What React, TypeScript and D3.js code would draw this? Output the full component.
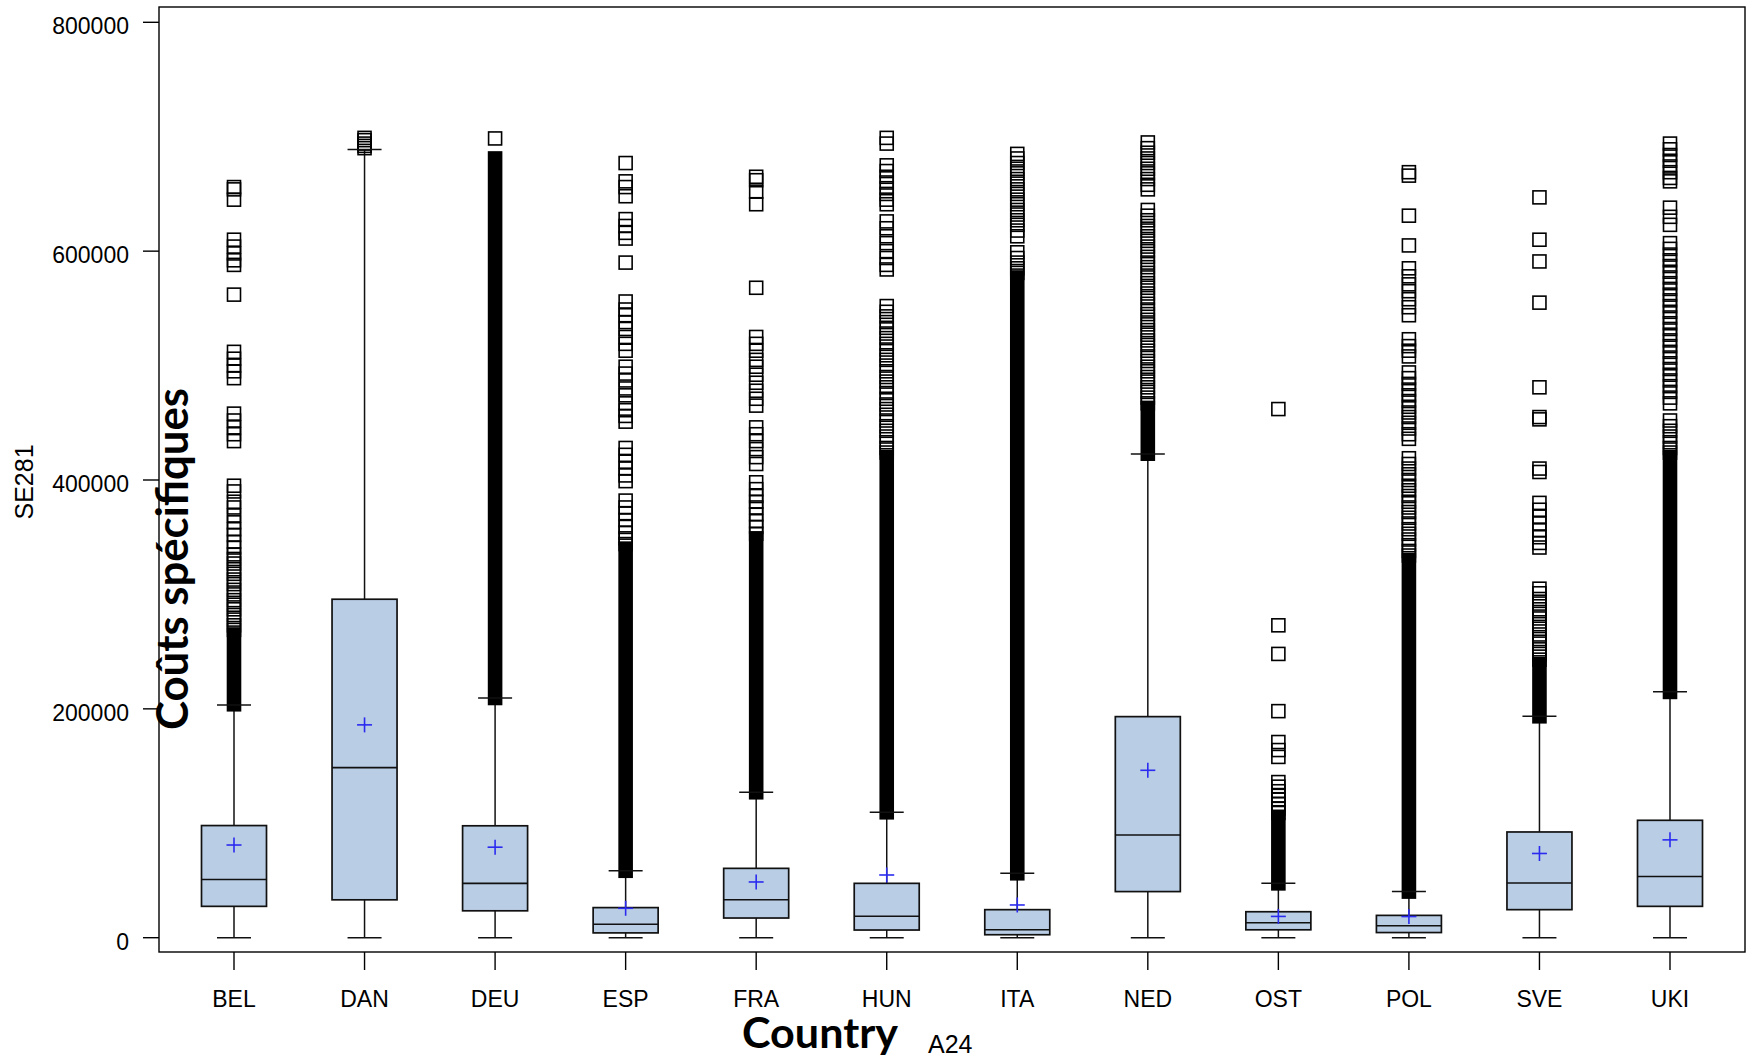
import React from "react";
import * as d3 from "d3";

// country codes (A24)
const countries = ["BEL", "DAN", "DEU", "ESP", "FRA", "HUN", "ITA", "NED", "OST", "POL", "SVE", "UKI"];

// box statistics of SE281 per country
const lowWhisker = [0, 0, 0, 0, 0, 0, 0, 0, 0, 0, 0, 0];
const q1Vals = [27400, 33100, 23500, 4200, 17200, 6700, 2600, 40300, 6900, 4500, 24500, 27400];
const medianVals = [50900, 148600, 47500, 11800, 33200, 18700, 7000, 89800, 13000, 10500, 47800, 53500];
const q3Vals = [98000, 295800, 97800, 26300, 60600, 47500, 24500, 193200, 22700, 19500, 92400, 102600];
const meanVals = [81000, 186000, 79100, 25700, 48700, 54800, 28600, 146300, 18600, 18500, 73600, 85500];
const highWhisker = [203400, 688900, 209500, 58500, 127100, 109600, 56300, 422800, 47500, 40300, 193500, 215000];

// single outliers (squares)
const belOut = [656000, 654000, 645000, 610000, 604000, 598000, 592000, 588000, 562000, 512000, 506000, 500000, 495000,
  489000, 458000, 452000, 446000, 440000, 434000, 395000, 390000, 381000, 376000, 369000, 363000, 357000, 352000, 346000,
  341000, 335000, 331000, 327000, 322000, 318000, 313000, 309000, 304000, 300000, 295000, 291000, 287000, 282000, 278000,
  273000, 269000];
const danOut = [699000, 697000, 694000, 692000, 690000];
const deuOut = [698500];
const espOut = [677000, 661000, 656000, 648000, 628000, 622000, 616000, 611000, 590000, 556000, 549000, 544000, 538000,
  532000, 525000, 519000, 513000, 499000, 493000, 487000, 480000, 474000, 467000, 461000, 456000, 451000, 428000, 422000,
  416000, 410000, 404000, 399000, 382000, 376000, 371000, 365000, 359000, 354000, 349000, 344000];
const fraOut = [665000, 662000, 652000, 641000, 568000, 525000, 519000, 513000, 505000, 499000, 492000, 485000, 478000,
  471000, 465000, 446000, 440000, 434000, 427000, 420000, 414000, 398000, 392000, 386000, 381000, 376000, 370000, 364000,
  359000, 353000];
const hunOut = [699000, 694000, 675000, 670000, 665000, 660000, 655000, 650000, 645000, 641000, 626000, 620000, 613000,
  607000, 600000, 594000, 588000, 584000, 552000, 547000, 543000, 538000, 533000, 528000, 524000, 519000, 514000, 509000,
  505000, 500000, 495000, 490000, 486000, 481000, 476000, 471000, 466000, 462000, 457000, 452000, 447000, 443000, 438000,
  433000, 428000, 424000];
const itaOut = [685000, 681000, 677000, 672000, 668000, 663000, 659000, 654000, 650000, 645000, 641000, 636000, 632000,
  627000, 623000, 618000, 613000, 599000, 594000, 590000, 585000, 581000];
const nedOut = [695000, 690000, 686000, 681000, 677000, 672000, 668000, 663000, 658000, 654000, 636000, 631000, 627000,
  622000, 618000, 613000, 609000, 604000, 600000, 595000, 590000, 586000, 581000, 577000, 572000, 568000, 563000, 559000,
  554000, 549000, 545000, 540000, 536000, 531000, 527000, 522000, 518000, 513000, 508000, 504000, 499000, 495000, 490000,
  486000, 481000, 477000, 472000, 467000];
const ostOut = [462000, 273000, 248000, 198000, 171000, 164000, 158000, 136000, 132000, 128000, 124000, 121000, 117000,
  113000, 109000];
const polOut = [669000, 666000, 631000, 605000, 585000, 578000, 571000, 565000, 558000, 551000, 544000, 523000, 517000,
  513000, 508000, 494000, 489000, 484000, 479000, 474000, 469000, 464000, 459000, 455000, 450000, 445000, 440000, 436000,
  419000, 414000, 410000, 405000, 400000, 395000, 391000, 386000, 381000, 376000, 372000, 367000, 362000, 357000, 353000,
  348000, 343000, 338000, 334000];
const sveOut = [647000, 610000, 591000, 555000, 481000, 455000, 453000, 410000, 407000, 380000, 374000, 368000, 362000,
  356000, 350000, 345000, 341000, 305000, 301000, 296000, 292000, 287000, 283000, 279000, 274000, 270000, 265000, 261000,
  257000, 252000, 248000, 243000];
const ukiOut = [694000, 689000, 684000, 679000, 674000, 669000, 664000, 661000, 638000, 630000, 623000, 607000, 602000,
  597000, 592000, 587000, 582000, 577000, 572000, 567000, 562000, 557000, 552000, 547000, 542000, 537000, 532000, 527000,
  522000, 517000, 512000, 507000, 502000, 497000, 492000, 487000, 482000, 477000, 472000, 467000, 452000, 447000, 443000,
  438000, 433000, 428000, 424000];
const outliers = [belOut, danOut, deuOut, espOut, fraOut, hunOut, itaOut, nedOut, ostOut, polOut, sveOut, ukiOut];

// ranges where outliers are so many that the squares merge into black
const denseRuns: [number, number][][] = [
  [[204000, 265000]], [], [[209500, 681000]], [[58500, 340000]], [[127100, 349000]], [[109600, 420000]],
  [[56300, 577000]], [[423000, 463000]], [[47500, 105000]], [[40300, 330000]], [[193500, 239000]], [[214800, 420000]],
];

const yTicks = [0, 200000, 400000, 600000, 800000];

const W = 1750;
const H = 1057;
const left = 159, right = 1745, top = 7, bottom = 952;
const sans = "'Liberation Sans', Arial, sans-serif";
const titleFont = "Lato, 'Open Sans', sans-serif";

export default function App() {
  const x = d3.scalePoint<string>().domain(countries).range([234, 1670]);
  const y = d3.scaleLinear().domain([0, 800000]).range([937.7, 22.3]);
  const boxW = 65;
  const capW = 34;
  const sq = 13;

  return (
    <svg width={W} height={H} style={{ position: "absolute", left: 0, top: 0, background: "#fff" }}>
      {countries.map((c, i) => {
        const cx = x(c)!;
        return (
          <g key={c}>
            <line x1={cx} x2={cx} y1={y(q3Vals[i])} y2={y(highWhisker[i])} stroke="#111" strokeWidth={1.5} />
            <line x1={cx} x2={cx} y1={y(q1Vals[i])} y2={y(lowWhisker[i])} stroke="#111" strokeWidth={1.5} />
            <line x1={cx - capW / 2} x2={cx + capW / 2} y1={y(lowWhisker[i])} y2={y(lowWhisker[i])} stroke="#111" strokeWidth={1.5} />
            <rect x={cx - boxW / 2} y={y(q3Vals[i])} width={boxW} height={y(q1Vals[i]) - y(q3Vals[i])}
              fill="#b9cde5" stroke="#111" strokeWidth={1.7} />
            <line x1={cx - boxW / 2} x2={cx + boxW / 2} y1={y(medianVals[i])} y2={y(medianVals[i])} stroke="#111" strokeWidth={1.6} />
            {denseRuns[i].map(([lo, hi], k) => (
              <rect key={k} x={cx - sq / 2 - 0.8} y={y(hi) - sq / 2 - 0.8} width={sq + 1.6}
                height={y(lo) - y(hi) + sq + 1.6} fill="#000" />
            ))}
            {outliers[i].map((v, k) => (
              <rect key={k} x={cx - sq / 2} y={y(v) - sq / 2} width={sq} height={sq}
                fill="none" stroke="#000" strokeWidth={1.6} />
            ))}
            <line x1={cx - capW / 2} x2={cx + capW / 2} y1={y(highWhisker[i])} y2={y(highWhisker[i])} stroke="#111" strokeWidth={1.5} />
            <g stroke="#2b2bf0" strokeWidth={1.6}>
              <line x1={cx - 7.5} x2={cx + 7.5} y1={y(meanVals[i])} y2={y(meanVals[i])} />
              <line x1={cx} x2={cx} y1={y(meanVals[i]) - 7.5} y2={y(meanVals[i]) + 7.5} />
            </g>
          </g>
        );
      })}

      <rect x={left} y={top} width={right - left} height={bottom - top} fill="none" stroke="#000" strokeWidth={1.4} />

      {yTicks.map((t) => (
        <g key={t}>
          <line x1={143} x2={left} y1={y(t)} y2={y(t)} stroke="#000" strokeWidth={1.4} />
          <text x={129} y={y(t) + 12} textAnchor="end" fontFamily={sans} fontSize={23} fill="#000">{t}</text>
        </g>
      ))}

      {countries.map((c) => (
        <g key={c}>
          <line x1={x(c)} x2={x(c)} y1={bottom} y2={970} stroke="#000" strokeWidth={1.4} />
          <text x={x(c)} y={1007} textAnchor="middle" fontFamily={sans} fontSize={23} fill="#000">{c}</text>
        </g>
      ))}

      <text transform="translate(33,482) rotate(-90)" textAnchor="middle" fontFamily={sans} fontSize={25} fill="#000">SE281</text>
      <text transform="translate(188,559) rotate(-90)" textAnchor="middle" fontFamily={titleFont} fontWeight="bold"
        fontSize={44} textLength={342} lengthAdjust="spacingAndGlyphs" fill="#000">Coûts spécifiques</text>
      <text x={742} y={1048} fontFamily={titleFont} fontWeight="bold" fontSize={42} textLength={156}
        lengthAdjust="spacingAndGlyphs" fill="#000">Country</text>
      <text x={928} y={1053} fontFamily={sans} fontSize={25} fill="#000">A24</text>
    </svg>
  );
}
